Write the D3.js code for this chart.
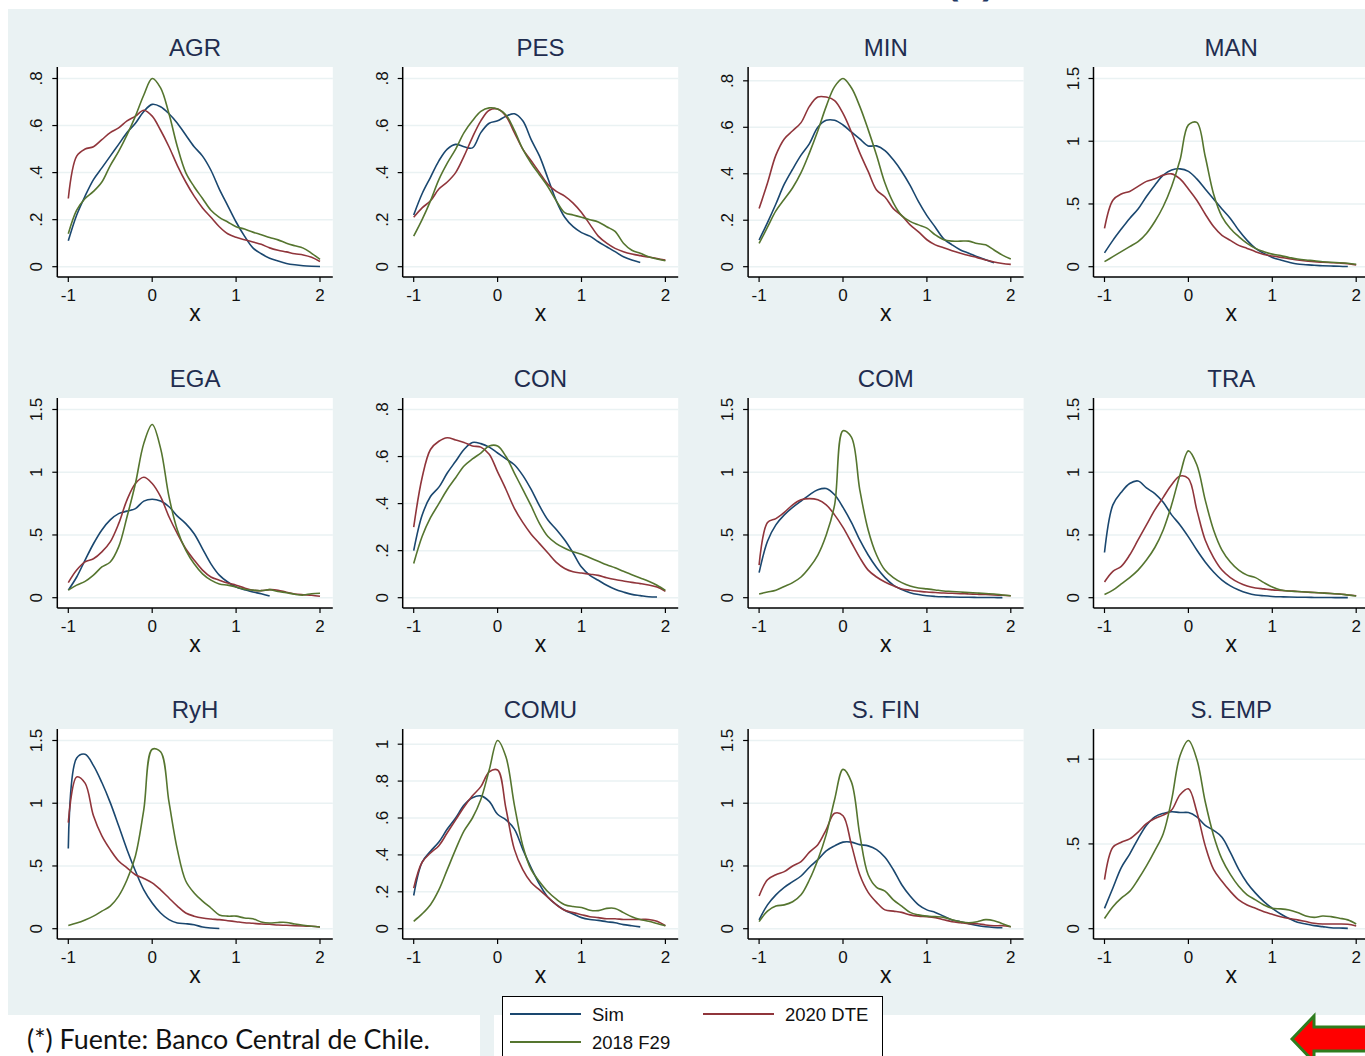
<!DOCTYPE html>
<html>
<head>
<meta charset="utf-8">
<script src="https://cdn.jsdelivr.net/npm/d3@7"></script>
<style>
  body { margin: 0; background: #fff; }
  svg { display: block; }
</style>
</head>
<body>
<div id="chart"></div>
<script>
// sector names, one panel each, in reading order
var sectors = ['AGR', 'PES', 'MIN', 'MAN', 'EGA', 'CON', 'COM', 'TRA', 'RyH', 'COMU', 'S. FIN', 'S. EMP'];
var seriesNames = ['Sim', '2020 DTE', '2018 F29'];
var seriesColors = ['#1a476f', '#90353b', '#55752f'];

// evaluation points of the densities (series can stop early)
var xGrid = [-1, -0.9, -0.8, -0.7, -0.6, -0.5, -0.4, -0.3, -0.2, -0.1, 0,
  0.1, 0.2, 0.3, 0.4, 0.5, 0.6, 0.7, 0.8, 0.9, 1,
  1.1, 1.2, 1.3, 1.4, 1.5, 1.6, 1.7, 1.8, 1.9, 2];
var xTicks = [-1, 0, 1, 2];

// y ticks per panel
var ticksA = [0, 0.2, 0.4, 0.6, 0.8];
var ticksB = [0, 0.5, 1, 1.5];
var ticksC = [0, 0.2, 0.4, 0.6, 0.8, 1];
var ticksD = [0, 0.5, 1];
var panelTicks = [ticksA, ticksA, ticksA, ticksB, ticksB, ticksA, ticksB, ticksB, ticksB, ticksC, ticksB, ticksD];

// densities: [Sim, 2020 DTE, 2018 F29]
var agr = [
  [0.11,0.22,0.30,0.37,0.42,0.47,0.52,0.57,0.61,0.66,0.69,0.68,0.65,0.61,0.56,0.51,0.47,0.41,0.33,0.26,0.19,0.13,0.08,0.055,0.036,0.024,0.014,0.008,0.004,0.002,0.001],
  [0.29,0.47,0.50,0.51,0.54,0.57,0.59,0.62,0.64,0.665,0.64,0.58,0.51,0.43,0.36,0.30,0.25,0.21,0.17,0.14,0.125,0.115,0.105,0.095,0.08,0.07,0.063,0.055,0.05,0.04,0.022],
  [0.14,0.24,0.29,0.32,0.36,0.43,0.49,0.56,0.64,0.73,0.80,0.76,0.65,0.51,0.40,0.34,0.29,0.24,0.21,0.19,0.17,0.16,0.147,0.136,0.124,0.114,0.10,0.089,0.079,0.057,0.031]
];
var pes = [
  [0.22,0.31,0.38,0.45,0.50,0.52,0.51,0.505,0.57,0.61,0.62,0.64,0.65,0.62,0.54,0.47,0.375,0.28,0.21,0.17,0.145,0.13,0.106,0.085,0.064,0.042,0.028,0.018],
  [0.21,0.25,0.28,0.33,0.36,0.40,0.47,0.55,0.62,0.665,0.67,0.64,0.57,0.50,0.45,0.40,0.35,0.32,0.30,0.27,0.23,0.18,0.13,0.10,0.078,0.064,0.054,0.047,0.041,0.035,0.028],
  [0.13,0.20,0.28,0.37,0.44,0.50,0.57,0.62,0.66,0.675,0.67,0.645,0.58,0.50,0.44,0.39,0.34,0.28,0.23,0.22,0.21,0.20,0.19,0.17,0.15,0.10,0.07,0.057,0.042,0.033,0.025]
];
var min = [
  [0.115,0.19,0.27,0.355,0.42,0.48,0.53,0.60,0.63,0.63,0.61,0.58,0.55,0.52,0.52,0.50,0.46,0.41,0.35,0.28,0.22,0.17,0.12,0.094,0.072,0.058,0.043,0.03,0.017],
  [0.25,0.36,0.48,0.55,0.585,0.62,0.69,0.73,0.73,0.715,0.66,0.58,0.49,0.41,0.33,0.30,0.25,0.22,0.18,0.15,0.116,0.094,0.082,0.069,0.058,0.048,0.039,0.029,0.02,0.014,0.01],
  [0.10,0.17,0.24,0.29,0.34,0.405,0.49,0.585,0.69,0.775,0.81,0.77,0.69,0.59,0.48,0.36,0.275,0.22,0.195,0.18,0.166,0.137,0.116,0.11,0.11,0.11,0.10,0.094,0.072,0.05,0.033]
];
var man = [
  [0.11,0.21,0.30,0.385,0.46,0.56,0.65,0.73,0.77,0.78,0.76,0.70,0.62,0.54,0.46,0.385,0.29,0.21,0.146,0.106,0.074,0.053,0.035,0.021,0.016,0.011,0.008,0.005,0.003,0.001],
  [0.305,0.53,0.58,0.60,0.64,0.68,0.70,0.73,0.74,0.70,0.62,0.53,0.42,0.32,0.25,0.21,0.17,0.146,0.12,0.098,0.085,0.074,0.064,0.053,0.045,0.04,0.035,0.032,0.029,0.024,0.013],
  [0.04,0.08,0.12,0.16,0.20,0.265,0.36,0.48,0.64,0.85,1.13,1.15,0.88,0.58,0.40,0.305,0.24,0.186,0.146,0.12,0.10,0.088,0.074,0.061,0.053,0.048,0.04,0.035,0.032,0.027,0.019]
];
var ega = [
  [0.06,0.165,0.30,0.43,0.54,0.62,0.67,0.69,0.71,0.77,0.785,0.77,0.725,0.65,0.59,0.51,0.39,0.27,0.18,0.125,0.085,0.064,0.045,0.032,0.013],
  [0.12,0.22,0.285,0.31,0.365,0.445,0.59,0.78,0.91,0.96,0.91,0.805,0.645,0.51,0.39,0.30,0.22,0.165,0.14,0.117,0.10,0.077,0.06,0.056,0.064,0.06,0.043,0.03,0.024,0.02,0.011],
  [0.06,0.10,0.13,0.18,0.245,0.285,0.405,0.645,0.91,1.23,1.38,1.19,0.805,0.54,0.38,0.27,0.19,0.14,0.11,0.10,0.085,0.067,0.06,0.056,0.064,0.05,0.04,0.027,0.021,0.032,0.035]
];
var con = [
  [0.20,0.35,0.43,0.47,0.53,0.58,0.63,0.66,0.655,0.64,0.615,0.59,0.565,0.52,0.46,0.39,0.33,0.29,0.245,0.19,0.13,0.095,0.074,0.053,0.036,0.024,0.014,0.009,0.004,0.003],
  [0.30,0.51,0.63,0.665,0.68,0.67,0.66,0.645,0.64,0.61,0.535,0.46,0.38,0.32,0.27,0.23,0.19,0.15,0.124,0.11,0.105,0.10,0.095,0.085,0.077,0.071,0.065,0.06,0.054,0.045,0.027],
  [0.145,0.26,0.34,0.40,0.46,0.51,0.56,0.59,0.615,0.645,0.645,0.60,0.53,0.46,0.39,0.315,0.26,0.23,0.21,0.195,0.185,0.17,0.155,0.14,0.127,0.112,0.098,0.084,0.07,0.053,0.031]
];
var com = [
  [0.20,0.45,0.58,0.66,0.72,0.77,0.82,0.86,0.87,0.82,0.72,0.60,0.46,0.34,0.24,0.16,0.10,0.065,0.04,0.025,0.015,0.01,0.007,0.005,0.004,0.003,0.002,0.002,0.001,0.001],
  [0.26,0.60,0.63,0.68,0.74,0.78,0.79,0.78,0.74,0.66,0.56,0.44,0.32,0.22,0.165,0.125,0.095,0.07,0.06,0.052,0.045,0.041,0.037,0.035,0.032,0.03,0.027,0.025,0.022,0.019,0.015],
  [0.03,0.045,0.06,0.09,0.12,0.165,0.24,0.34,0.50,0.74,1.33,1.28,0.86,0.54,0.34,0.22,0.16,0.12,0.093,0.078,0.07,0.062,0.054,0.05,0.045,0.041,0.037,0.033,0.03,0.022,0.015]
];
var tra = [
  [0.36,0.74,0.84,0.91,0.93,0.875,0.83,0.76,0.66,0.58,0.485,0.38,0.285,0.205,0.14,0.094,0.062,0.038,0.022,0.015,0.01,0.007,0.005,0.004,0.003,0.002,0.002,0.001,0.001,0.001],
  [0.125,0.21,0.25,0.34,0.46,0.58,0.70,0.80,0.90,0.97,0.95,0.70,0.46,0.32,0.22,0.16,0.12,0.093,0.078,0.07,0.062,0.058,0.054,0.05,0.045,0.041,0.037,0.033,0.03,0.022,0.015],
  [0.025,0.06,0.11,0.16,0.22,0.30,0.40,0.54,0.74,0.98,1.17,1.06,0.78,0.54,0.38,0.285,0.22,0.18,0.16,0.12,0.085,0.062,0.053,0.049,0.045,0.041,0.037,0.033,0.03,0.022,0.014]
];
var ryh = [
  [0.64,1.36,1.39,1.30,1.165,1.005,0.82,0.63,0.46,0.31,0.205,0.125,0.072,0.045,0.04,0.032,0.013,0.005,0.002],
  [0.845,1.21,1.16,0.90,0.74,0.63,0.54,0.485,0.43,0.40,0.365,0.31,0.245,0.18,0.125,0.10,0.085,0.077,0.072,0.064,0.056,0.048,0.043,0.037,0.035,0.029,0.027,0.024,0.021,0.019,0.013],
  [0.025,0.045,0.07,0.10,0.14,0.18,0.26,0.39,0.58,0.95,1.43,1.41,1.01,0.63,0.38,0.285,0.22,0.165,0.11,0.10,0.10,0.085,0.08,0.053,0.045,0.05,0.05,0.037,0.027,0.019,0.013]
];
var comu = [
  [0.18,0.36,0.42,0.47,0.54,0.60,0.67,0.71,0.72,0.69,0.62,0.59,0.54,0.43,0.33,0.24,0.17,0.13,0.10,0.08,0.06,0.05,0.045,0.038,0.032,0.022,0.016,0.01],
  [0.22,0.36,0.41,0.45,0.52,0.59,0.66,0.72,0.77,0.85,0.86,0.65,0.43,0.32,0.25,0.21,0.17,0.13,0.10,0.087,0.076,0.065,0.06,0.054,0.054,0.05,0.05,0.05,0.05,0.04,0.016],
  [0.04,0.08,0.13,0.21,0.32,0.43,0.53,0.60,0.70,0.86,1.02,0.93,0.67,0.45,0.32,0.255,0.20,0.16,0.13,0.12,0.115,0.10,0.098,0.11,0.11,0.087,0.065,0.05,0.04,0.028,0.016]
];
var sfin = [
  [0.07,0.19,0.27,0.33,0.375,0.42,0.49,0.55,0.62,0.66,0.69,0.69,0.67,0.66,0.63,0.57,0.47,0.35,0.26,0.19,0.15,0.13,0.10,0.07,0.056,0.04,0.025,0.015,0.01,0.008],
  [0.26,0.39,0.43,0.455,0.50,0.535,0.61,0.67,0.79,0.92,0.90,0.67,0.43,0.29,0.21,0.15,0.14,0.13,0.11,0.10,0.096,0.088,0.072,0.056,0.048,0.04,0.04,0.03,0.024,0.024,0.016],
  [0.056,0.14,0.18,0.19,0.215,0.27,0.39,0.55,0.75,1.03,1.27,1.17,0.75,0.43,0.33,0.30,0.23,0.18,0.13,0.11,0.10,0.096,0.09,0.072,0.056,0.048,0.056,0.072,0.064,0.04,0.016]
];
var semp = [
  [0.12,0.24,0.36,0.44,0.53,0.61,0.66,0.68,0.69,0.685,0.685,0.66,0.61,0.58,0.54,0.45,0.35,0.27,0.21,0.16,0.12,0.087,0.06,0.038,0.028,0.018,0.012,0.006,0.004,0.002],
  [0.29,0.48,0.51,0.53,0.57,0.62,0.65,0.67,0.70,0.79,0.825,0.69,0.49,0.35,0.28,0.22,0.17,0.14,0.12,0.10,0.085,0.071,0.06,0.052,0.042,0.032,0.028,0.028,0.028,0.026,0.016],
  [0.06,0.13,0.18,0.22,0.29,0.37,0.46,0.56,0.76,1.02,1.11,1.00,0.75,0.55,0.41,0.32,0.25,0.20,0.17,0.14,0.12,0.117,0.11,0.095,0.075,0.067,0.075,0.071,0.062,0.052,0.028]
];
var panelData = [agr, pes, min, man, ega, con, com, tra, ryh, comu, sfin, semp];

var W = 1365, H = 1056;
var bg = '#eaf2f3';
var font = '"Liberation Sans", Arial, sans-serif';

var svg = d3.select('#chart').append('svg').attr('width', W).attr('height', H);

svg.append('rect').attr('width', W).attr('height', H).attr('fill', '#fff');
// graph region
svg.append('rect').attr('x', 8).attr('y', 9).attr('width', W).attr('height', 1006).attr('fill', bg);
svg.append('rect').attr('x', 480).attr('y', 1015).attr('width', 14).attr('height', 41).attr('fill', bg);

// slide title remnant, cut off at the top
svg.append('text').attr('x', 946).attr('y', -5)
    .attr('font-family', '"Open Sans", sans-serif').attr('font-weight', 700)
    .attr('font-size', 40).attr('fill', '#1f3864').text('(*)');

var colStep = 345.4, rowStep = 331;
var fmtTick = function (d) { return d === 0 ? '0' : String(d).replace(/^0\./, '.'); };

var line = d3.line().curve(d3.curveCatmullRom.alpha(0.5));

sectors.forEach(function (name, i) {
  var c = i % 4, r = Math.floor(i / 4);
  var left = 57.3 + c * colStep, right = left + 275.5;
  var top = 67 + r * rowStep, bottom = 277 + r * rowStep;
  var ticks = panelTicks[i];
  var data = panelData[i];

  var yMax = Math.max(ticks[ticks.length - 1], d3.max(data, function (s) { return d3.max(s); }));
  var x = d3.scaleLinear().domain([-1, 2]).range([left + 11, left + 262.7]);
  var y = d3.scaleLinear().domain([0, yMax]).range([bottom - 10.3, top + 11.5]);

  var g = svg.append('g').attr('class', 'panel');

  g.append('rect').attr('x', left).attr('y', top)
      .attr('width', right - left).attr('height', bottom - top).attr('fill', '#fff');

  g.selectAll('line.grid').data(ticks).enter().append('line').attr('class', 'grid')
      .attr('x1', left).attr('x2', right)
      .attr('y1', function (d) { return y(d); }).attr('y2', function (d) { return y(d); })
      .attr('stroke', bg).attr('stroke-width', 1.5);

  // density curves
  data.forEach(function (vals, k) {
    var pts = vals.map(function (v, j) { return [x(xGrid[j]), y(v)]; });
    g.append('path').attr('d', line(pts))
        .attr('fill', 'none').attr('stroke', seriesColors[k])
        .attr('stroke-width', 1.6).attr('stroke-linejoin', 'round');
  });

  // y axis
  g.append('line').attr('x1', left).attr('x2', left).attr('y1', top).attr('y2', bottom)
      .attr('stroke', '#000').attr('stroke-width', 1.5);
  g.selectAll('line.ytick').data(ticks).enter().append('line').attr('class', 'ytick')
      .attr('x1', left - 5).attr('x2', left)
      .attr('y1', function (d) { return y(d); }).attr('y2', function (d) { return y(d); })
      .attr('stroke', '#000').attr('stroke-width', 1.2);
  g.selectAll('text.ylab').data(ticks).enter().append('text').attr('class', 'ylab')
      .attr('transform', function (d) { return 'translate(' + (left - 15) + ',' + y(d) + ') rotate(-90)'; })
      .attr('text-anchor', 'middle')
      .attr('font-family', font).attr('font-size', 17).attr('fill', '#111')
      .text(fmtTick);

  // x axis
  g.append('line').attr('x1', left).attr('x2', right).attr('y1', bottom).attr('y2', bottom)
      .attr('stroke', '#000').attr('stroke-width', 1.5);
  g.selectAll('line.xtick').data(xTicks).enter().append('line').attr('class', 'xtick')
      .attr('x1', function (d) { return x(d); }).attr('x2', function (d) { return x(d); })
      .attr('y1', bottom).attr('y2', bottom + 5)
      .attr('stroke', '#000').attr('stroke-width', 1.2);
  g.selectAll('text.xlab').data(xTicks).enter().append('text').attr('class', 'xlab')
      .attr('x', function (d) { return x(d); }).attr('y', bottom + 24)
      .attr('text-anchor', 'middle')
      .attr('font-family', font).attr('font-size', 17).attr('fill', '#111')
      .text(function (d) { return d; });

  g.append('text').attr('x', (left + right) / 2).attr('y', bottom + 44)
      .attr('text-anchor', 'middle')
      .attr('font-family', font).attr('font-size', 23).attr('fill', '#111')
      .text('x');

  g.append('text').attr('x', (left + right) / 2).attr('y', top - 11)
      .attr('text-anchor', 'middle')
      .attr('font-family', font).attr('font-size', 24).attr('fill', '#1f2d4f')
      .text(name);
});

// legend
var legend = svg.append('g').attr('class', 'legend');
legend.append('rect').attr('x', 502.5).attr('y', 996.5).attr('width', 380).attr('height', 80)
    .attr('fill', '#fff').attr('stroke', '#000').attr('stroke-width', 1);
var legendPos = [[510, 1014], [703, 1014], [510, 1042]];
seriesNames.forEach(function (s, k) {
  var p = legendPos[k];
  legend.append('line').attr('x1', p[0]).attr('x2', p[0] + 71).attr('y1', p[1]).attr('y2', p[1])
      .attr('stroke', seriesColors[k]).attr('stroke-width', 2);
  legend.append('text').attr('x', p[0] + 82).attr('y', p[1] + 7)
      .attr('font-family', font).attr('font-size', 18.5).attr('fill', '#111')
      .text(s);
});

// source note
var note = svg.append('text').attr('x', 27).attr('y', 1049)
    .attr('font-family', 'Lato, "Open Sans", sans-serif').attr('font-size', 24).attr('fill', '#111')
    .text('(*) Fuente: Banco Central de Chile.');
var nw = note.node().getComputedTextLength();
if (nw > 0) note.attr('font-size', 24 * 403 / nw);

// navigation arrow, bottom right
svg.append('path')
    .attr('d', 'M1292,1039 L1314,1016 L1314,1027 L1370,1027 L1370,1051 L1314,1051 L1314,1062 Z')
    .attr('fill', '#ff0000').attr('stroke', '#2e7d1e').attr('stroke-width', 3);
</script>
</body>
</html>
